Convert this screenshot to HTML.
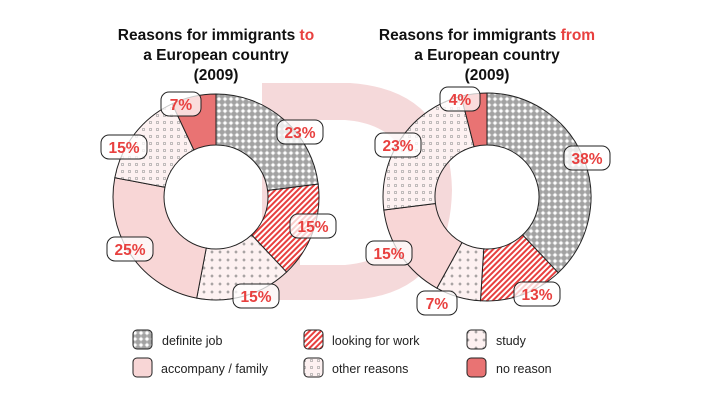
<!DOCTYPE html>
<html><head><meta charset="utf-8"><style>
html,body{margin:0;padding:0;background:#fff;}
svg{display:block;font-family:"Liberation Sans",Arial,sans-serif;}
</style></head><body>
<svg id="s" width="712" height="401" viewBox="0 0 712 401" xmlns="http://www.w3.org/2000/svg">
<defs>
<pattern id="pDef" width="6" height="6" patternUnits="userSpaceOnUse">
<rect width="6" height="6" fill="#a2a2a2"/><path d="M3 0.3L5.7 3L3 5.7L0.3 3Z" fill="#d6d6d6"/><circle cx="3" cy="3" r="1.3" fill="#fff"/></pattern>
<pattern id="pLook" width="4" height="4" patternUnits="userSpaceOnUse" patternTransform="rotate(45)">
<rect width="4" height="4" fill="#fff"/><rect width="2" height="4" fill="#e8403f"/></pattern>
<pattern id="pStudy" width="8" height="8" patternUnits="userSpaceOnUse">
<rect width="8" height="8" fill="#fdf1f1"/><path d="M4 2.5V5.5M2.5 4H5.5" stroke="#777" stroke-width="0.8"/></pattern>
<pattern id="pOther" width="7" height="7" patternUnits="userSpaceOnUse">
<rect width="7" height="7" fill="#fdf1f1"/><rect x="2.5" y="2.5" width="2" height="2" fill="none" stroke="#999" stroke-width="0.6"/></pattern>
</defs>
<g id="wm" fill="#f5d9da">
<path fill-rule="evenodd" d="M262 83 L350 83 Q450 90 452 190 Q450 295 350 300 L262 300 Z M300 120 L300 265 L345 265 Q410 260 412 190 Q410 125 345 120 Z"/>
</g>
<g font-weight="bold" font-size="15.5" text-anchor="middle" fill="#111">
<text x="216" y="40">Reasons for immigrants <tspan fill="#e8403f">to</tspan></text>
<text x="216" y="60">a European country</text>
<text x="216" y="80">(2009)</text>
<text x="487" y="40">Reasons for immigrants <tspan fill="#e8403f">from</tspan></text>
<text x="487" y="60">a European country</text>
<text x="487" y="80">(2009)</text>
</g>
<g id="charts"></g>
<g id="labels"></g>
<g font-size="12.5" fill="#222">
<rect x="133" y="330" width="19" height="19" rx="4" fill="url(#pDef)" stroke="#222"/><text x="162" y="345">definite job</text>
<rect x="304" y="330" width="19" height="19" rx="4" fill="url(#pLook)" stroke="#222"/><text x="332" y="345">looking for work</text>
<rect x="467" y="330" width="19" height="19" rx="4" fill="url(#pStudy)" stroke="#222"/><text x="496" y="345">study</text>
<rect x="133" y="358" width="19" height="19" rx="4" fill="#f8d6d6" stroke="#222"/><text x="161" y="373">accompany / family</text>
<rect x="304" y="358" width="19" height="19" rx="4" fill="url(#pOther)" stroke="#222"/><text x="332" y="373">other reasons</text>
<rect x="467" y="358" width="19" height="19" rx="4" fill="#e97373" stroke="#222"/><text x="496" y="373">no reason</text>
</g>
</svg>
<script>
var NS="http://www.w3.org/2000/svg";
var fills=["url(#pDef)","url(#pLook)","url(#pStudy)","#f8d6d6","url(#pOther)","#e97373"];
function donut(cx,cy,R,r,vals){
 var g=document.getElementById("charts"),a=0,tot=vals.reduce(function(x,y){return x+y},0);
 vals.forEach(function(v,i){
  var a0=a/tot*2*Math.PI,a1=(a+v)/tot*2*Math.PI;a+=v;
  function P(rad,ang){return [cx+rad*Math.sin(ang),cy-rad*Math.cos(ang)];}
  var p1=P(R,a0),p2=P(R,a1),p3=P(r,a1),p4=P(r,a0),l=(a1-a0)>Math.PI?1:0;
  var d="M"+p1+"A"+R+","+R+" 0 "+l+" 1 "+p2+"L"+p3+"A"+r+","+r+" 0 "+l+" 0 "+p4+"Z";
  var e=document.createElementNS(NS,"path");e.setAttribute("d",d);e.setAttribute("fill",fills[i]);
  e.setAttribute("stroke","#222");e.setAttribute("stroke-width","1");g.appendChild(e);
 });
}
donut(216,197,103,52,[23,15,15,25,15,7]);
donut(487,197,104,52,[38,13,7,15,23,4]);
var L=[[300,132,"23%"],[313,226,"15%"],[256,296,"15%"],[130,249,"25%"],[124,147,"15%"],[181,104,"7%"],
[587,158,"38%"],[537,294,"13%"],[437,303,"7%"],[389,253,"15%"],[398,145,"23%"],[460,99,"4%"]];
var lg=document.getElementById("labels");
L.forEach(function(t){
 var w=t[2].length==2?40:46;
 var r=document.createElementNS(NS,"rect");
 r.setAttribute("x",t[0]-w/2);r.setAttribute("y",t[1]-12);r.setAttribute("width",w);r.setAttribute("height",24);
 r.setAttribute("rx",8);r.setAttribute("fill","rgba(255,255,255,0.75)");r.setAttribute("stroke","#222");lg.appendChild(r);
 var x=document.createElementNS(NS,"text");x.setAttribute("x",t[0]);x.setAttribute("y",t[1]+6);
 x.setAttribute("text-anchor","middle");x.setAttribute("font-weight","bold");x.setAttribute("font-size","15.5");
 x.setAttribute("fill","#e8403f");x.textContent=t[2];lg.appendChild(x);
});
</script>
</body></html>
